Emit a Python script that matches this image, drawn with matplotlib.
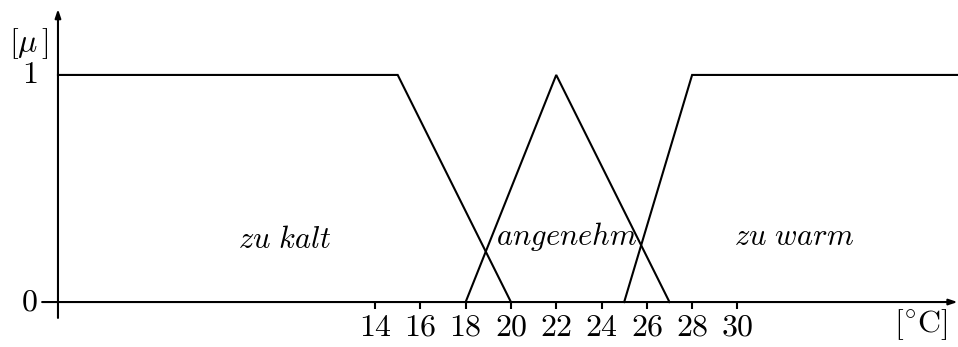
import matplotlib.pyplot as plt

plt.rcParams['mathtext.fontset'] = 'cm'
plt.rcParams['font.family'] = 'serif'

# membership functions (temperature in degC, membership mu)
kalt_x = [0, 15, 20]
kalt_mu = [1, 1, 0]
angenehm_x = [18, 22, 27]
angenehm_mu = [0, 1, 0]
warm_x = [25, 28, 39.8]
warm_mu = [0, 1, 1]

xticks = [14, 16, 18, 20, 22, 24, 26, 28, 30]
yticks = [0, 1]

set_labels = ['zu kalt', 'angenehm', 'zu warm']
label_x = [10, 22.45, 32.5]
label_y = [0.275, 0.29, 0.29]

fs = 23
lw = 1.5

fig = plt.figure(figsize=(9.58, 3.47), dpi=100)
ax = fig.add_axes([0, 0, 1, 1])
ax.set_xlim(-2.56, 39.74)
ax.set_ylim(-0.198, 1.330)
ax.axis('off')

# axes with arrows
ax.annotate('', xy=(39.72, 0), xytext=(-0.7, 0),
            arrowprops=dict(arrowstyle='-|>,head_length=0.5,head_width=0.17',
                            lw=lw, color='black', shrinkA=0, shrinkB=0))
ax.annotate('', xy=(0, 1.29), xytext=(0, -0.07),
            arrowprops=dict(arrowstyle='-|>,head_length=0.5,head_width=0.17',
                            lw=lw, color='black', shrinkA=0, shrinkB=0))

for t in xticks:
    ax.plot([t, t], [0, -0.03], color='black', lw=lw, solid_capstyle='butt')
    ax.text(t, -0.11, r'$%d$' % t, ha='center', va='center', fontsize=fs)

for v in yticks:
    ax.text(-1.25, v, r'$%d$' % v, ha='center', va='center', fontsize=fs)

ax.text(-1.3, 1.14, r'$[\mu\,]$', ha='center', va='center', fontsize=fs)
ax.text(38.1, -0.10, r'$[^{\circ}\mathrm{C}]$', ha='center', va='center', fontsize=fs)

for xs, ys in [(kalt_x, kalt_mu), (angenehm_x, angenehm_mu), (warm_x, warm_mu)]:
    ax.plot(xs, ys, color='black', lw=lw, solid_joinstyle='miter')

for name, lx, ly in zip(set_labels, label_x, label_y):
    ax.text(lx, ly, '$' + name.replace(' ', r'\ ') + '$',
            ha='center', va='center', fontsize=fs - 1)

fig.savefig('out.png', dpi=100)
